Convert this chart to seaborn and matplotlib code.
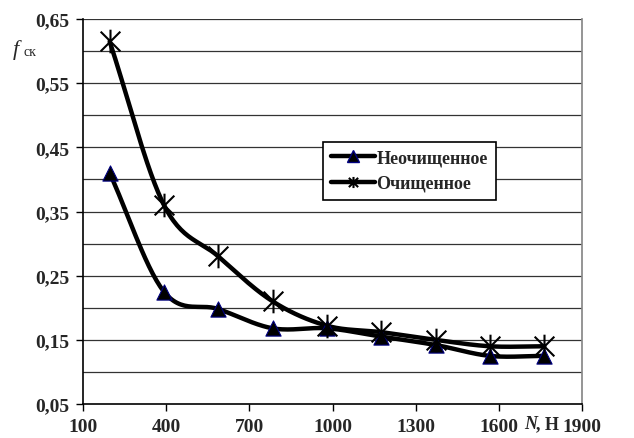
import matplotlib
matplotlib.use("Agg")
import matplotlib.pyplot as plt
import numpy as np
import pandas as pd
import seaborn as sns
from matplotlib.lines import Line2D
from matplotlib.path import Path

# values
load_n = [196, 392, 588, 784, 980, 1176, 1372, 1568, 1764]
raw_f = [0.41, 0.225, 0.198, 0.168, 0.168, 0.155, 0.142, 0.125, 0.125]
clean_f = [0.615, 0.36, 0.28, 0.21, 0.172, 0.162, 0.15, 0.14, 0.14]
series_names = ["Неочищенное", "Очищенное"]
x_ticks = [100, 400, 700, 1000, 1300, 1600, 1900]
y_ticks = [0.05, 0.15, 0.25, 0.35, 0.45, 0.55, 0.65]

sns.set_theme(style="white")
plt.rcParams["font.family"] = ["Liberation Serif", "DejaVu Serif"]
plt.rcParams["font.weight"] = "bold"

STAR = Path([(-1, -1), (1, 1), (-1, 1), (1, -1), (0, -1.2), (0, 1.2)],
            [Path.MOVETO, Path.LINETO, Path.MOVETO, Path.LINETO,
             Path.MOVETO, Path.LINETO])


def smooth(x, y, n=30):
    # Catmull-Rom spline through the points, like spreadsheet "smoothed line"
    x = np.asarray(x, float)
    y = np.asarray(y, float)
    px = np.concatenate([[2 * x[0] - x[1]], x, [2 * x[-1] - x[-2]]])
    py = np.concatenate([[2 * y[0] - y[1]], y, [2 * y[-1] - y[-2]]])
    xs, ys = [], []
    t = np.linspace(0, 1, n)
    for i in range(1, len(px) - 2):
        for arr, out in ((px, xs), (py, ys)):
            p0, p1, p2, p3 = arr[i - 1], arr[i], arr[i + 1], arr[i + 2]
            out.extend(0.5 * ((2 * p1) + (-p0 + p2) * t
                              + (2 * p0 - 5 * p1 + 4 * p2 - p3) * t ** 2
                              + (-p0 + 3 * p1 - 3 * p2 + p3) * t ** 3))
    return xs, ys


df = pd.DataFrame({"N": load_n * 2, "f": raw_f + clean_f,
                   "series": [series_names[0]] * len(load_n) + [series_names[1]] * len(load_n)})

fig = plt.figure(figsize=(6.34, 4.39), dpi=100)
ax = fig.add_axes([0.131, 0.0774, 0.787, 0.877])

for yv in np.arange(0.10, 0.651, 0.05):
    ax.axhline(yv, color="#333333", lw=0.9, zorder=1)

for name, ys in zip(series_names, [raw_f, clean_f]):
    sx, sy = smooth(load_n, ys)
    ax.plot(sx, sy, color="black", lw=3.2, solid_capstyle="round", zorder=2)

sns.scatterplot(data=df[df.series == series_names[0]], x="N", y="f", ax=ax,
                marker="^", s=120, color="black", edgecolor="#000080",
                linewidth=0.8, zorder=3, legend=False)
ax.plot(load_n, clean_f, ls="none", marker=STAR, ms=17, mew=1.5,
        color="black", zorder=3)

ax.set_xlim(100, 1900)
ax.set_ylim(0.05, 0.65)
ax.set_xticks(x_ticks)
ax.set_xticklabels([str(v) for v in x_ticks])
ax.set_yticks(y_ticks)
ax.set_yticklabels([f"{v:.2f}".replace(".", ",") for v in y_ticks])
ax.tick_params(axis="both", direction="out", length=5, width=1, color="black",
               labelsize=14, pad=5, bottom=True, left=True)
for lab in ax.get_xticklabels() + ax.get_yticklabels():
    lab.set_fontweight("bold")
ax.set_xlabel("")
ax.set_ylabel("")

for side in ["left", "bottom"]:
    ax.spines[side].set_color("black")
    ax.spines[side].set_linewidth(1.2)
ax.spines["right"].set_color("#888888")
ax.spines["top"].set_visible(False)

fig.text(0.020, 0.875, "f", fontsize=16, style="italic", fontweight="normal")
fig.text(0.037, 0.872, "ск", fontsize=10, fontweight="normal")
fig.text(0.827, 0.022, "N", fontsize=13, style="italic", fontweight="bold")
fig.text(0.846, 0.022, ", Н", fontsize=13, fontweight="bold")

handles = [
    Line2D([], [], color="black", lw=3.2, marker="^", ms=9,
           markerfacecolor="black", markeredgecolor="#000080"),
    Line2D([], [], color="black", lw=3.2, marker=STAR, ms=8, mew=1.5),
]
leg = ax.legend(handles, series_names, loc="lower left",
                bbox_to_anchor=(0.481, 0.53), borderaxespad=0, frameon=True,
                fancybox=False, edgecolor="black", framealpha=1,
                handlelength=2.4, handletextpad=0.1, borderpad=0.45,
                labelspacing=0.45, prop={"size": 13, "weight": "bold"})
leg.get_frame().set_linewidth(1.2)

fig.savefig("out.png", dpi=100, facecolor="white")
